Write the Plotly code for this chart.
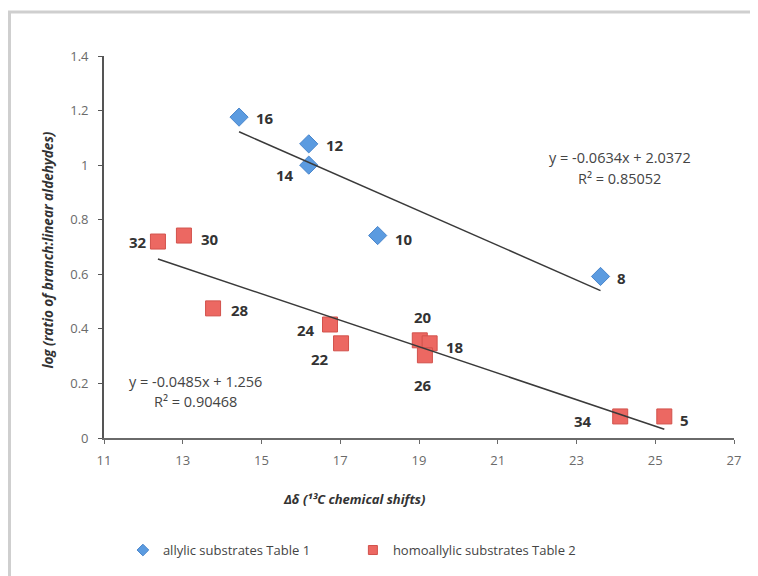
import plotly.graph_objects as go

# ---- data ----
allylic_x = [14.43, 16.2, 16.2, 17.95, 23.61]
allylic_y = [1.176, 1.078, 1.0, 0.742, 0.592]
allylic_lbl = ["16", "12", "14", "10", "8"]

homo_x = [12.37, 13.03, 13.77, 16.74, 17.02, 19.02, 19.27, 19.15, 24.11, 25.23]
homo_y = [0.72, 0.742, 0.475, 0.416, 0.347, 0.358, 0.347, 0.303, 0.079, 0.079]
homo_lbl = ["32", "30", "28", "24", "22", "20", "18", "26", "34", "5"]

allylic_fit = (-0.0634, 2.0372, 0.85052)
homo_fit = (-0.0485, 1.256, 0.90468)

x_ticks = [11, 13, 15, 17, 19, 21, 23, 25, 27]
y_ticks = [0, 0.2, 0.4, 0.6, 0.8, 1, 1.2, 1.4]

# label offsets (pixels, screen: right / down) relative to each point
allylic_off = [(26, 1), (26, 1), (-24, 10), (26, 3), (21, 2)]
homo_off = [(-20, 0), (26, 3), (27, 2), (-24, 6), (-21, 16), (3, -23),
            (25, 4), (-2, 30), (-37, 5), (20, 4)]

FONT = "Open Sans"
BLUE = "#5b9be0"
RED = "#ec6862"

fig = go.Figure()

fig.add_trace(go.Scatter(
    x=allylic_x, y=allylic_y, mode="markers", showlegend=False,
    marker=dict(symbol="diamond", size=14, color=BLUE, line=dict(color="#4a86cc", width=1)),
))
fig.add_trace(go.Scatter(
    x=homo_x, y=homo_y, mode="markers", showlegend=False,
    marker=dict(symbol="square", size=15, color=RED, line=dict(color="#d2524c", width=1)),
))

# trendlines from the equations shown on the chart
for xs, (m, b, r2) in [(allylic_x, allylic_fit), (homo_x, homo_fit)]:
    x0, x1 = min(xs), max(xs)
    fig.add_trace(go.Scatter(
        x=[x0, x1], y=[m * x0 + b, m * x1 + b], mode="lines",
        line=dict(color="#3a3a3a", width=1.5), showlegend=False, hoverinfo="skip",
    ))

# legend-only entries with small symbols
fig.add_trace(go.Scatter(x=[None], y=[None], mode="markers", name="allylic substrates Table 1",
                         marker=dict(symbol="diamond", size=9, color=BLUE,
                                     line=dict(color="#4a86cc", width=1))))
fig.add_trace(go.Scatter(x=[None], y=[None], mode="markers", name="homoallylic substrates Table 2",
                         marker=dict(symbol="square", size=9, color=RED,
                                     line=dict(color="#d2524c", width=1))))

ann = []
for xs, ys, lbls, offs in [(allylic_x, allylic_y, allylic_lbl, allylic_off),
                            (homo_x, homo_y, homo_lbl, homo_off)]:
    for x, y, t, (dx, dy) in zip(xs, ys, lbls, offs):
        ann.append(dict(x=x, y=y, xref="x", yref="y", text="<b>" + t + "</b>",
                        showarrow=False, xshift=dx, yshift=-dy,
                        font=dict(family=FONT, size=15, color="#333333")))

eq_font = dict(family=FONT, size=14.5, color="#444444")
ann += [
    dict(x=24.1, y=1.027, xref="x", yref="y", showarrow=False, font=eq_font,
         text="y = %.4fx + %.4f" % (allylic_fit[0], allylic_fit[1])),
    dict(x=24.1, y=0.950, xref="x", yref="y", showarrow=False, font=eq_font,
         text="R² = %.5f" % allylic_fit[2]),
    dict(x=13.33, y=0.208, xref="x", yref="y", showarrow=False, font=eq_font,
         text="y = %.4fx + %.3f" % (homo_fit[0], homo_fit[1])),
    dict(x=13.33, y=0.135, xref="x", yref="y", showarrow=False, font=eq_font,
         text="R² = %.5f" % homo_fit[2]),
    dict(x=0.397, y=-0.159, xref="paper", yref="paper", showarrow=False,
         xanchor="center", yanchor="middle",
         text="<b><i>Δδ (¹³C chemical shifts)</i></b>",
         font=dict(family=FONT, size=13, color="#333333")),
    dict(x=-0.089, y=0.493, xref="paper", yref="paper", showarrow=False, textangle=-90,
         xanchor="center", yanchor="middle",
         text="<b><i>log (ratio of branch:linear aldehydes)</i></b>",
         font=dict(family=FONT, size=13.5, color="#333333")),
]

fig.update_layout(
    width=750, height=568,
    margin=dict(l=96, r=24, t=48, b=137),
    paper_bgcolor="white", plot_bgcolor="white",
    font=dict(family=FONT, color="#595959"),
    annotations=ann,
    showlegend=True,
    legend=dict(orientation="h", x=0.030, y=-0.29, xanchor="left", yanchor="middle",
                font=dict(family=FONT, size=13, color="#444444"),
                itemwidth=30, entrywidth=185, entrywidthmode="pixels",
                bgcolor="rgba(0,0,0,0)"),
    shapes=[dict(type="rect", xref="paper", yref="paper", x0=-0.150, x1=1.2,
                 y0=-0.5, y1=1.115, line=dict(color="#cfcfcf", width=3), layer="below")],
)
fig.update_xaxes(range=[11, 27], tickvals=x_ticks, ticktext=[str(v) for v in x_ticks],
                 showgrid=False, zeroline=False, showline=True, linecolor="#6a6a6a",
                 linewidth=1.8, ticks="outside", ticklen=4, tickcolor="#6a6a6a",
                 ticklabelstandoff=5,
                 tickfont=dict(family=FONT, size=13, color="#6a6a6a"))
fig.update_yaxes(range=[0, 1.4], tickvals=y_ticks, ticktext=[("%g" % v) for v in y_ticks],
                 showgrid=False, zeroline=False, showline=True, linecolor="#555555",
                 linewidth=1.8, ticks="outside", ticklen=4, tickcolor="#555555",
                 ticklabelstandoff=7,
                 tickfont=dict(family=FONT, size=13, color="#6a6a6a"))

fig.write_html("out.html")
